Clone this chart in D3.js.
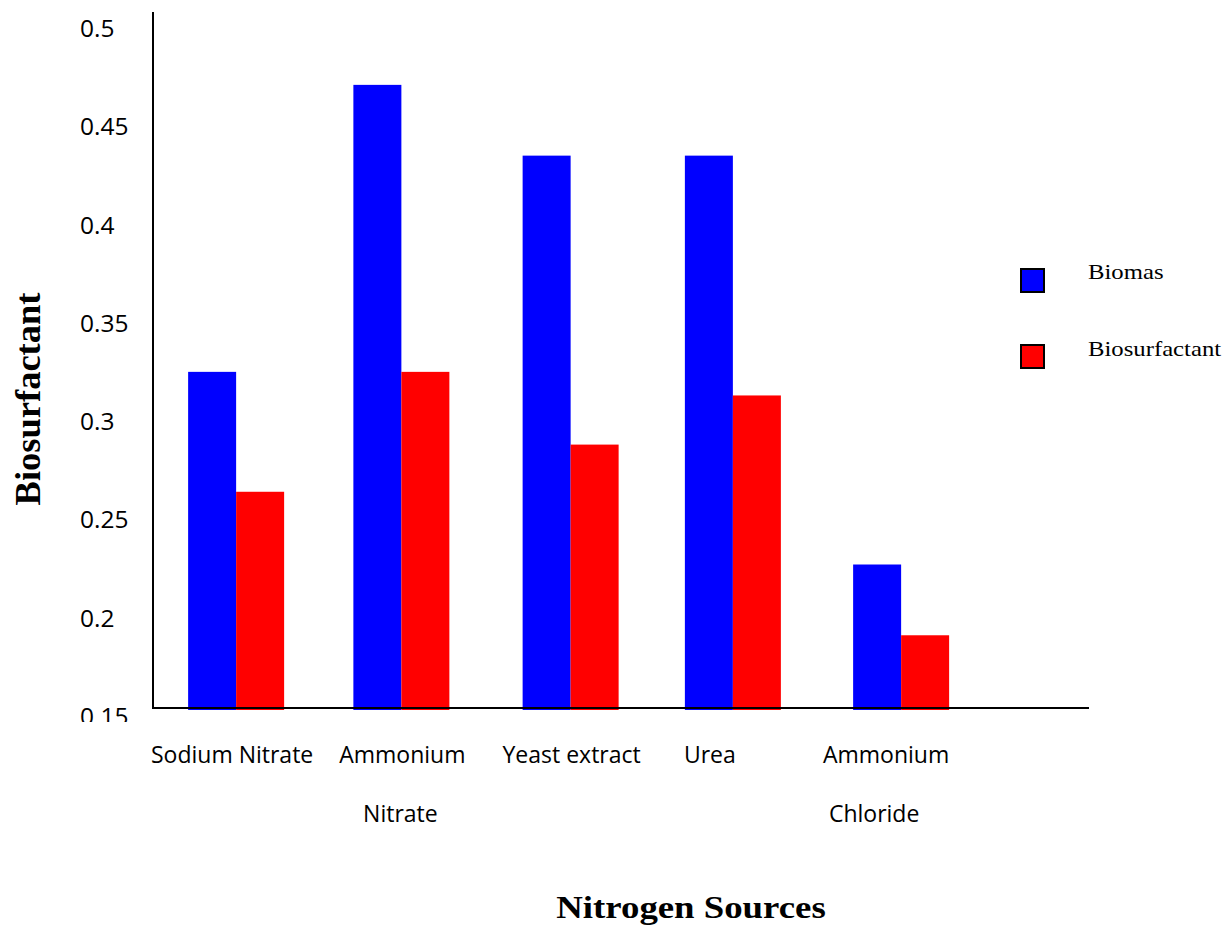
<!DOCTYPE html>
<html>
<head>
<meta charset="utf-8">
<script src="https://cdn.jsdelivr.net/npm/d3@7/dist/d3.min.js"></script>
<style>
  html, body { margin: 0; padding: 0; background: #fff; }
  svg { display: block; }
</style>
</head>
<body>
<svg id="chart" width="1222" height="932"></svg>
<script>
// ---- data ----
const categories = ["Sodium Nitrate", "Ammonium Nitrate", "Yeast extract", "Urea", "Ammonium Chloride"];
const labelLines = [["Sodium Nitrate"], ["Ammonium", "Nitrate"], ["Yeast extract"], ["Urea"], ["Ammonium", "Chloride"]];
const seriesNames = ["Biomas", "Biosurfactant"];
const biomas = [0.321, 0.467, 0.431, 0.431, 0.223];
const biosurfactant = [0.260, 0.321, 0.284, 0.309, 0.187];
const yTicks = [0.15, 0.2, 0.25, 0.3, 0.35, 0.4, 0.45, 0.5];
const colors = ["#0000ff", "#ff0000"];

// ---- layout ----
const svg = d3.select("#chart");
const x0 = 153, xEnd = 1089, yBase = 708, yTop = 20;
const x = d3.scaleBand().domain(categories).range([x0, x0 + 5 * 166.25]).paddingInner(0).paddingOuter(0);
const y = d3.scaleLinear().domain([0.15, 0.5]).range([yBase, yTop]);
const barW = 48;
const stretch = 1.15;
// layout-only nudges (pixels) relative to band centre
const groupShift = [0, -1, 2, -2, 0];
const labelShift = [[-4], [0, -2], [3], [-25], [-15, -27]];

const series = [biomas, biosurfactant];

// clip for tick labels (bottom label is cut in the original)
svg.append("defs").append("clipPath").attr("id", "tickclip")
  .append("rect").attr("x", 0).attr("y", 0).attr("width", 150).attr("height", 722);

// bars
series.forEach((vals, si) => {
  svg.append("g").selectAll("rect")
    .data(vals)
    .join("rect")
    .attr("x", (d, i) => x(categories[i]) + x.bandwidth() / 2 + groupShift[i] - barW + si * barW)
    .attr("width", barW)
    .attr("y", d => y(d))
    .attr("height", d => y(0.15) - y(d) + 2)
    .attr("fill", colors[si]);
});

// axes lines
svg.append("line").attr("x1", x0).attr("x2", x0).attr("y1", 12).attr("y2", yBase + 1)
  .attr("stroke", "#000").attr("stroke-width", 2);
svg.append("line").attr("x1", x0 - 1).attr("x2", xEnd).attr("y1", yBase).attr("y2", yBase)
  .attr("stroke", "#000").attr("stroke-width", 2);

// y tick labels
svg.append("g").attr("clip-path", "url(#tickclip)").selectAll("text")
  .data(yTicks)
  .join("text")
  .attr("x", 80)
  .attr("y", d => y(d) + 17)
  .attr("font-family", "'Open Sans', sans-serif")
  .attr("font-size", 24.5)
  .attr("fill", "#000")
  .text(d => d3.format("")(d));

// x category labels
labelLines.forEach((lines, i) => {
  lines.forEach((ln, j) => {
    svg.append("text")
      .attr("x", x(categories[i]) + x.bandwidth() / 2 + labelShift[i][j])
      .attr("y", 763 + j * 59)
      .attr("text-anchor", "middle")
      .attr("font-family", "'Open Sans', sans-serif")
      .attr("font-size", 23)
      .attr("fill", "#000")
      .text(ln);
  });
});

// legend
seriesNames.forEach((name, i) => {
  const ly = 269 + i * 76;
  svg.append("rect")
    .attr("x", 1021).attr("y", ly).attr("width", 23).attr("height", 23)
    .attr("fill", colors[i]).attr("stroke", "#000").attr("stroke-width", 2);
  svg.append("text")
    .attr("transform", `translate(1088,${ly + 10 + (i === 0 ? 0 : 1)}) scale(${stretch},1)`)
    .attr("font-family", "'Liberation Serif', 'Times New Roman', serif")
    .attr("font-size", 21.5)
    .attr("fill", "#000")
    .text(name);
});

// axis titles
svg.append("text")
  .attr("transform", `translate(691,918) scale(${stretch},1)`)
  .attr("text-anchor", "middle")
  .attr("font-family", "'Liberation Serif', 'Times New Roman', serif")
  .attr("font-weight", "bold")
  .attr("font-size", 32)
  .attr("fill", "#000")
  .text("Nitrogen Sources");

svg.append("text")
  .attr("transform", `translate(40,399) rotate(-90)`)
  .attr("text-anchor", "middle")
  .attr("font-family", "'Liberation Serif', 'Times New Roman', serif")
  .attr("font-weight", "bold")
  .attr("font-size", 36.5)
  .attr("fill", "#000")
  .text("Biosurfactant");
</script>
</body>
</html>
